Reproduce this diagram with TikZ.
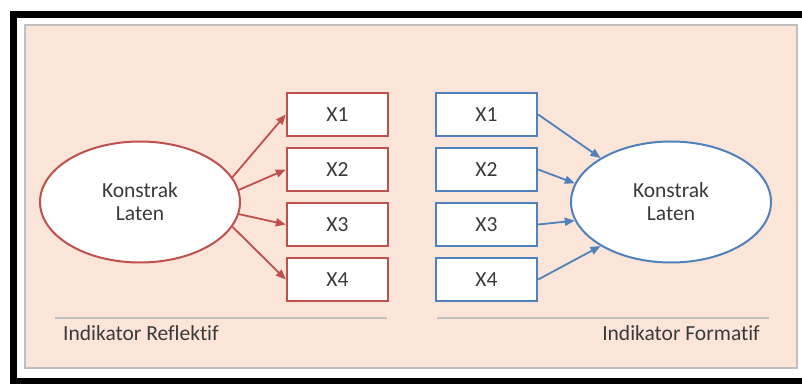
\documentclass[tikz,border=0pt]{standalone}
\usepackage{fontspec}
\setmainfont[Ligatures=NoCommon]{Carlito}
\usetikzlibrary{arrows.meta,shapes.geometric}
\definecolor{panelfill}{HTML}{FAE5D8}
\definecolor{refred}{HTML}{C0504D}
\definecolor{refblue}{HTML}{4F81BD}
\definecolor{txtgray}{HTML}{3A3A3A}
\begin{document}
\begin{tikzpicture}[x=1pt,y=1pt]
\tikzset{every node/.style={font=\fontsize{21.5}{23}\selectfont,text=txtgray}}
\tikzset{latent/.style={ellipse,draw,line width=2pt,fill=white,minimum width=200pt,minimum height=121pt,inner sep=0pt,align=center}}
\tikzset{indbox/.style={rectangle,draw,line width=2.4pt,fill=white,minimum width=101pt,minimum height=43pt,inner sep=0pt}}
\tikzset{link/.style={line width=1.8pt,-{Triangle[length=10pt,width=8pt]}}}
\clip (0,0) rectangle (802,383);
\fill[white] (0,0) rectangle (802,383);
% frame and panel
\draw[line width=7pt] (810,368.5) -- (13.5,368.5) -- (13.5,1.5) -- (810,1.5);
\draw[fill=panelfill,draw=black!25,line width=2pt] (25,15) rectangle (797,358);
\draw[black!25,line width=1.5pt] (55,65) -- (387,65);
\draw[black!25,line width=1.5pt] (437,65) -- (769,65);
% reflektif
\node[latent,draw=refred] (lvR) at (140,181) {Konstrak\\Laten};
\node[indbox,draw=refred] (r1) at (337.5,268.5) {X1};
\node[indbox,draw=refred] (r2) at (337.5,213.5) {X2};
\node[indbox,draw=refred] (r3) at (337.5,158.5) {X3};
\node[indbox,draw=refred] (r4) at (337.5,103.5) {X4};
\draw[link,refred] (lvR.15) -- (r1.west);
\draw[link,refred] (lvR.7) -- (r2.west);
\draw[link,refred] (lvR.-7) -- (r3.west);
\draw[link,refred] (lvR.-15) -- (r4.west);
\node[anchor=base west,inner sep=0pt] (capR) at (63,43) {Indikator Reflektif};
% formatif
\node[latent,draw=refblue] (lvF) at (671,181) {Konstrak\\Laten};
\node[indbox,draw=refblue] (f1) at (486.5,268.5) {X1};
\node[indbox,draw=refblue] (f2) at (486.5,213.5) {X2};
\node[indbox,draw=refblue] (f3) at (486.5,158.5) {X3};
\node[indbox,draw=refblue] (f4) at (486.5,103.5) {X4};
\draw[link,refblue] (f1.east) -- (lvF.148);
\draw[link,refblue] (f2.east) -- (lvF.169);
\draw[link,refblue] (f3.east) -- (lvF.191);
\draw[link,refblue] (f4.east) -- (lvF.212);
\node[anchor=base east,inner sep=0pt] (capF) at (760,43) {Indikator Formatif};
\end{tikzpicture}
\end{document}
